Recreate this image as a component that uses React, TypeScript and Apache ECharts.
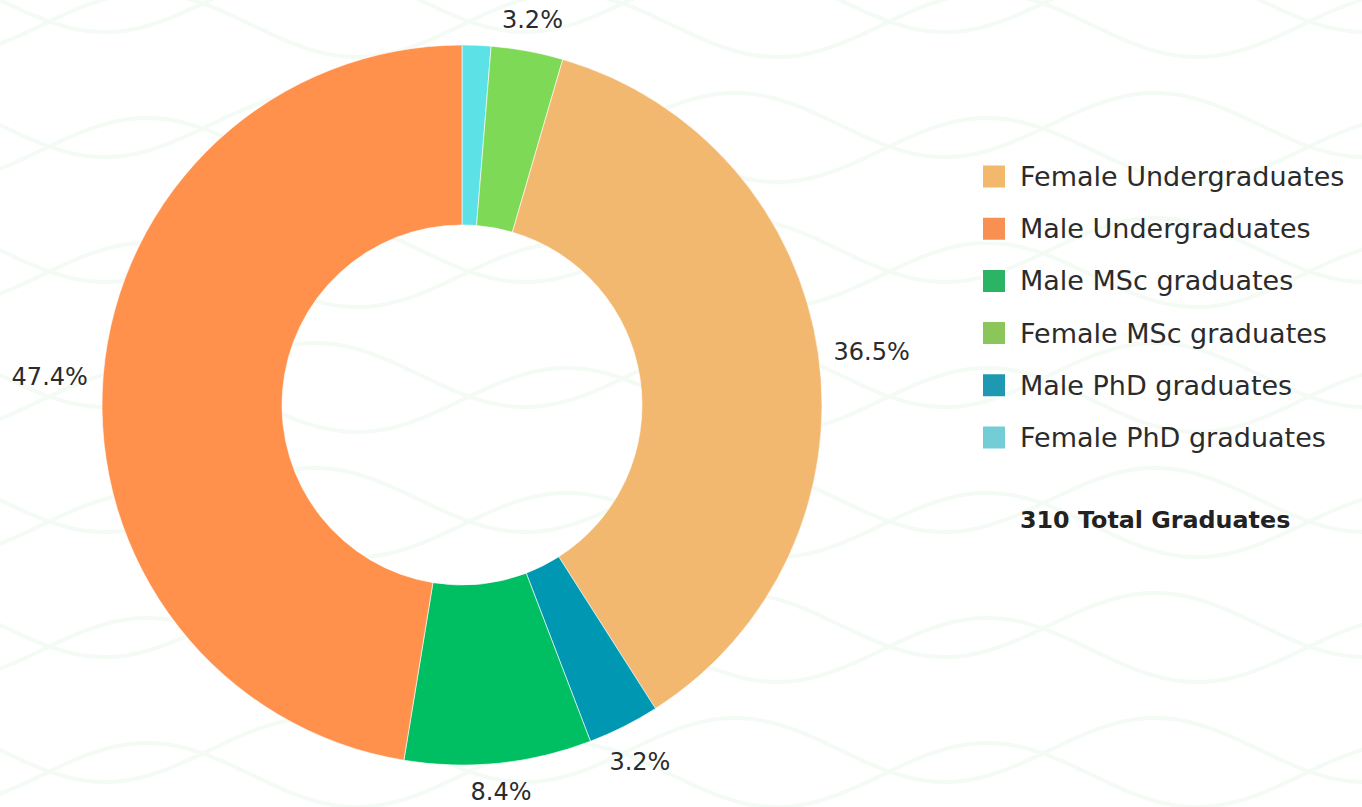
import React, { useEffect, useRef } from "react";
import * as echarts from "echarts";

// Pie order (clockwise from 12 o'clock)
const sliceNames = [
  "Female PhD graduates",
  "Female MSc graduates",
  "Female Undergraduates",
  "Male PhD graduates",
  "Male MSc graduates",
  "Male Undergraduates",
];
const sliceValues = [4, 10, 113, 10, 26, 147];
const sliceColors = ["#5CE1E6", "#7ED957", "#F2B86F", "#0097B2", "#00BF63", "#FF914D"];

// Legend order
const legendNames = [
  "Female Undergraduates",
  "Male Undergraduates",
  "Male MSc graduates",
  "Female MSc graduates",
  "Male PhD graduates",
  "Female PhD graduates",
];
const legendColors = ["#F2B86C", "#F79050", "#2AB463", "#8BC65A", "#1F98B1", "#73CDD7"];

const totalLabel = "310 Total Graduates";
const hiddenLabelBelow = 2; // percent

const FONT = "DejaVu Sans";
const CX = 462;
const CY = 405;
const R_IN = 180;
const R_OUT = 360;
const LABEL_R = 375;
const LABEL_HALF_H = 11;

// decorative background waves
function waveGraphics() {
  const els: any[] = [];
  const P = 420;
  const A = 32;
  const S = 125;
  for (let fam = 0; fam < 2; fam++) {
    for (let k = -1; k < 8; k++) {
      const pts: number[][] = [];
      for (let x = -10; x <= 1372; x += 8) {
        const y = k * S + fam * 25 + A * Math.sin((2 * Math.PI * x) / P + fam * Math.PI * 0.8);
        pts.push([x, y]);
      }
      els.push({
        type: "polyline",
        silent: true,
        z: -10,
        shape: { points: pts, smooth: 0.3 },
        style: { stroke: "#F3FBF4", lineWidth: 4, fill: null },
      });
    }
  }
  return els;
}

export default function App() {
  const ref = useRef<HTMLDivElement>(null);
  useEffect(() => {
    if (!ref.current) return;
    const chart = echarts.init(ref.current, undefined, { renderer: "svg" });
    const total = sliceValues.reduce((a, b) => a + b, 0);
    const cum: number[] = [];
    let acc = 0;
    sliceValues.forEach((v) => {
      cum.push(acc);
      acc += v;
    });

    chart.setOption({
      animation: false,
      backgroundColor: "#ffffff",
      legend: {
        orient: "vertical",
        left: 981,
        top: 163,
        padding: 0,
        itemWidth: 24,
        itemHeight: 24,
        itemGap: 25.2,
        icon: "rect",
        selectedMode: false,
        textStyle: {
          fontFamily: FONT,
          fontSize: 27,
          lineHeight: 26,
          color: "#2b2b2b",
          padding: [0, 0, 0, 9],
        },
        data: legendNames.map((n, i) => ({ name: n, itemStyle: { color: legendColors[i] } })),
      },
      graphic: [
        ...waveGraphics(),
        {
          type: "text",
          left: 1020,
          top: 508,
          z: 10,
          style: {
            text: totalLabel,
            fontFamily: FONT,
            fontSize: 23.8,
            fontWeight: "bold",
            fill: "#222222",
          },
        },
      ],
      series: [
        {
          type: "pie",
          center: [CX, CY],
          radius: [R_IN, R_OUT],
          startAngle: 90,
          clockwise: true,
          avoidLabelOverlap: false,
          itemStyle: { borderColor: "#ffffff", borderWidth: 0.6 },
          label: {
            show: true,
            position: "outside",
            fontFamily: FONT,
            fontSize: 24,
            color: "#2b2b2b",
            formatter: (p: any) => `${((p.value / total) * 100).toFixed(1)}%`,
          },
          labelLine: { show: false },
          labelLayout: (params: any) => {
            const i = params.dataIndex;
            const mid = ((cum[i] + sliceValues[i] / 2) / total) * Math.PI * 2;
            const vx = Math.sin(mid);
            const vy = -Math.cos(mid);
            const a = params.labelRect.width / 2;
            const d = LABEL_R + a * Math.abs(vx) + LABEL_HALF_H * Math.abs(vy);
            return {
              x: CX + d * vx - 3 * vx * Math.abs(vy),
              y: CY + d * vy + 6 * vx * vx,
              align: "center",
              verticalAlign: "middle",
            };
          },
          data: sliceNames.map((n, i) => ({
            name: n,
            value: sliceValues[i],
            itemStyle: { color: sliceColors[i] },
            label: { show: (sliceValues[i] / total) * 100 >= hiddenLabelBelow },
          })),
        },
      ],
    });
    return () => chart.dispose();
  }, []);

  return (
    <div
      ref={ref}
      style={{ position: "fixed", left: 0, top: 0, width: 1362, height: 807 }}
    />
  );
}
